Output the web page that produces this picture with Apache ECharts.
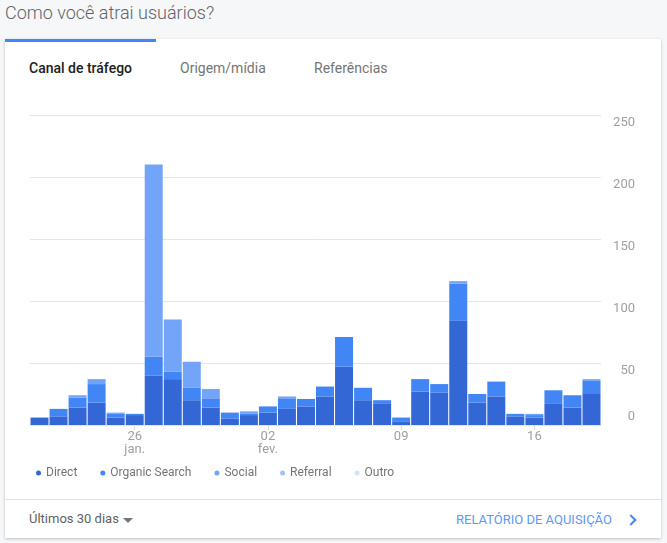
<!DOCTYPE html>
<html>
<head>
<meta charset="utf-8">
<script src="https://cdn.jsdelivr.net/npm/echarts@6/dist/echarts.min.js"></script>
<style>
  html, body { margin: 0; padding: 0; }
  body { width: 667px; height: 543px; background: #f6f7f9; font-family: Roboto, "Noto Sans", sans-serif; position: relative; overflow: hidden; }
  .abs { position: absolute; white-space: nowrap; }
  #title { left: 5px; top: 2px; font-size: 18px; line-height: 22px; font-weight: 300; color: #5f6368; }
  #card { left: 5px; top: 39px; width: 656px; height: 499px; background: #fff; box-shadow: 0 1px 3px rgba(0,0,0,0.22); }
  #activebar { left: 5px; top: 39px; width: 151px; height: 3px; background: #4285f4; }
  .tab { top: 60px; font-size: 14px; line-height: 16px; color: #757575; }
  #tab1 { left: 29px; color: #212121; font-weight: 500; }
  #tab2 { left: 180px; }
  #tab3 { left: 314px; }
  #sep { left: 5px; top: 499px; width: 656px; height: 1px; background: #e0e0e0; }
  #period { left: 29px; top: 511px; font-size: 13px; line-height: 16px; color: #616161; }
  #caret { left: 123px; top: 518px; width: 0; height: 0; border-left: 5px solid transparent; border-right: 5px solid transparent; border-top: 5px solid #757575; }
  #report { left: 456px; top: 512px; font-size: 13px; line-height: 16px; color: #5e97f6; }
  #chev { left: 627px; top: 516px; width: 6px; height: 6px; border-right: 2px solid #4a89f3; border-top: 2px solid #4a89f3; transform: rotate(45deg); }
  #chart { position: absolute; left: 0; top: 0; width: 667px; height: 543px; z-index: 5; }
</style>
</head>
<body>
<div id="title" class="abs">Como você atrai usuários?</div>
<div id="card" class="abs"></div>
<div id="activebar" class="abs"></div>
<div id="tab1" class="abs tab">Canal de tráfego</div>
<div id="tab2" class="abs tab">Origem/mídia</div>
<div id="tab3" class="abs tab">Referências</div>
<div id="sep" class="abs"></div>
<div id="period" class="abs">Últimos 30 dias</div>
<div id="caret" class="abs"></div>
<div id="report" class="abs">RELATÓRIO DE AQUISIÇÃO</div>
<div id="chev" class="abs"></div>
<div id="chart"></div>
<script>
// Day labels, 21 jan. .. 19 fev.
const days = ['21','22','23','24','25','26','27','28','29','30','31','01','02','03','04','05','06','07','08','09','10','11','12','13','14','15','16','17','18','19'];
// Month captions shown under specific tick labels
const monthCaptions = { 5: 'jan.', 12: 'fev.' };
// Indices of the days that carry a tick label
const labeledDays = [5, 12, 19, 26];
// Y-axis tick values
const yTicks = [0, 50, 100, 150, 200, 250];

const seriesNames = ['Direct', 'Organic Search', 'Social', 'Referral', 'Outro'];
const direct   = [6, 7, 14, 18, 6, 8, 40, 37, 20, 14, 5, 8, 10, 13, 15, 23, 47, 20, 17, 3, 27, 26, 84, 18, 23, 7, 6, 17, 14, 25];
const organic  = [0, 6, 8, 15, 3, 1, 15, 6, 10, 7, 5, 1, 5, 8, 6, 8, 24, 10, 3, 3, 10, 7, 30, 7, 12, 2, 2, 11, 10, 11];
const social   = [0, 0, 2, 4, 1, 0, 155, 42, 21, 8, 0, 2, 0, 2, 0, 0, 0, 0, 0, 0, 0, 0, 2, 0, 0, 0, 1, 0, 0, 1];
const referral = [0, 0, 0, 0, 0, 0, 0, 0, 0, 0, 0, 0, 0, 0, 0, 0, 0, 0, 0, 0, 0, 0, 0, 0, 0, 0, 0, 0, 0, 0];
const outro    = [0, 0, 0, 0, 0, 0, 0, 0, 0, 0, 0, 0, 0, 0, 0, 0, 0, 0, 0, 0, 0, 0, 0, 0, 0, 0, 0, 0, 0, 0];

const seriesData = [direct, organic, social, referral, outro];
const colors = ['#3367d6', '#4285f4', '#72a4f7', '#a1c2fa', '#d2e3fc'];

const chart = echarts.init(document.getElementById('chart'));
const yMin = yTicks[0], yMax = yTicks[yTicks.length - 1], yStep = yTicks[1] - yTicks[0];
const showIdx = (i) => labeledDays.indexOf(i) >= 0;

chart.setOption({
  animation: false,
  textStyle: { fontFamily: 'Roboto' },
  color: colors,
  grid: { left: 30, right: 66, top: 115, bottom: 118, containLabel: false },
  legend: {
    left: 31, top: 462,
    icon: 'circle', itemWidth: 5, itemHeight: 5, itemGap: 23,
    textStyle: { fontSize: 12, color: '#757575', fontFamily: 'Roboto' },
    data: seriesNames
  },
  xAxis: {
    type: 'category',
    data: days,
    axisLine: { show: false },
    axisTick: { show: true, length: 5, alignWithLabel: true, interval: (i) => showIdx(i), lineStyle: { color: '#dddddd' } },
    axisLabel: {
      interval: (i) => showIdx(i),
      margin: 5,
      fontSize: 13, lineHeight: 13, color: '#9e9e9e', fontFamily: 'Roboto',
      formatter: (v, i) => monthCaptions[i] ? v + '\n' + monthCaptions[i] : v
    }
  },
  yAxis: [
    {
      type: 'value', position: 'right', min: yMin, max: yMax, interval: yStep,
      axisLine: { show: false }, axisTick: { show: false },
      splitLine: { lineStyle: { color: '#e6e6e6', width: 1 } },
      axisLabel: {
        align: 'right', verticalAlign: 'top', margin: 34, lineHeight: 15,
        fontSize: 13, color: '#a0a0a0', fontFamily: 'Roboto',
        formatter: (v) => v === 0 ? '' : String(v)
      }
    },
    {
      type: 'value', position: 'right', min: yMin, max: yMax, interval: yStep,
      axisLine: { show: false }, axisTick: { show: false }, splitLine: { show: false },
      axisLabel: {
        align: 'right', verticalAlign: 'bottom', margin: 34, lineHeight: 16,
        fontSize: 13, color: '#a0a0a0', fontFamily: 'Roboto',
        formatter: (v) => v === 0 ? '0' : ''
      }
    }
  ],
  series: seriesNames.map((name, k) => ({
    name: name,
    type: 'bar',
    stack: 'total',
    yAxisIndex: 0,
    barWidth: 18,
    data: seriesData[k],
    itemStyle: { color: colors[k] },
    emphasis: { disabled: true }
  }))
});
</script>
</body>
</html>
